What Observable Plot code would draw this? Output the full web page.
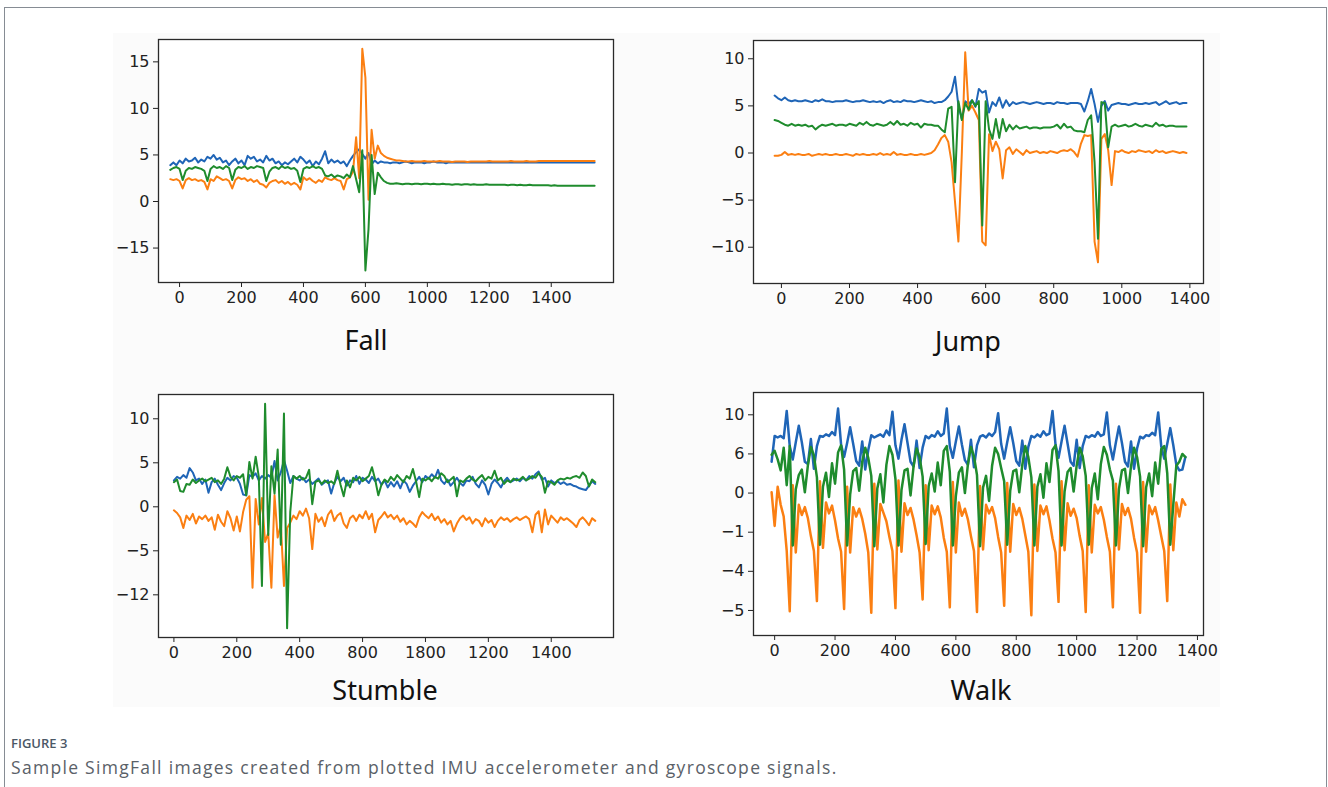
<!DOCTYPE html>
<html><head><meta charset="utf-8">
<script src="https://cdn.jsdelivr.net/npm/d3@7"></script>
<script src="https://cdn.jsdelivr.net/npm/@observablehq/plot@0.6"></script>
<style>
html,body{margin:0;padding:0;background:#fff;}
#page{position:relative;width:1328px;height:787px;overflow:hidden;background:#fff;}
#border{position:absolute;left:4px;top:7px;width:1323px;height:820px;border:1px solid #868c94;box-sizing:border-box;}
#imgbg{position:absolute;left:113px;top:33px;width:1107px;height:674px;background:#fbfbfb;}
.panel{position:absolute;}
.title{position:absolute;width:240px;text-align:center;font-family:"Noto Sans";font-size:27px;color:#111;line-height:1;}
#figlabel{position:absolute;left:11px;top:734px;font-family:"Open Sans";font-size:13px;font-weight:600;color:#4b5866;letter-spacing:0;}
#caption{position:absolute;left:11px;top:755px;font-family:"Open Sans";font-size:17.5px;color:#5a6168;letter-spacing:1.3px;white-space:nowrap;}
</style></head>
<body><div id="page">
<div id="border"></div>
<div id="imgbg"></div>
<div id="p-fall" class="panel" style="left:88px;top:30px"></div>
<div id="p-jump" class="panel" style="left:683px;top:30px"></div>
<div id="p-stumble" class="panel" style="left:88px;top:385px"></div>
<div id="p-walk" class="panel" style="left:683px;top:385px"></div>
<div class="title" style="left:246px;top:326px">Fall</div>
<div class="title" style="left:848px;top:327px">Jump</div>
<div class="title" style="left:265px;top:676px">Stumble</div>
<div class="title" style="left:861px;top:676px">Walk</div>
<div id="figlabel">FIGURE 3</div>
<div id="caption">Sample SimgFall images created from plotted IMU accelerometer and gyroscope signals.</div>
</div>
<script>
// ---- Series colors ----
const seriesNames = ["blue", "orange", "green"];
const seriesColors = ["#1f65b7", "#fb7f12", "#1f8c2d"];

// ---- FALL (sample position = fallStart + fallStep * index) ----
const fallStart = -30, fallStep = 10;
const fallBlue = [3.9,4.2,3.9,4.4,4.1,4.6,4.3,4.4,4.7,4.2, 4.5,4.3,4.8,4.6,5.0,4.5,4.7,4.2,4.4,3.9,
  4.3,4.6,4.1,4.4,3.9,4.9,4.6,4.8,4.3,4.5, 4.2,4.9,4.4,4.6,4.1,4.3,3.9,4.2,4.0,4.3,
  4.6,4.2,4.8,4.5,4.1,4.4,3.8,4.3,4.0,4.6, 5.4,4.1,4.5,4.2,4.4,4.1,4.3,3.8,4.4,4.9,
  5.3,5.6,5.1,4.6,5.2,4.0,4.4,4.1,4.3,4.2, 4.2,4.1,4.2,4.2,4.1,4.2,4.3,4.2,4.1,4.2,
  4.2,4.2,4.1,4.2,4.2,4.3,4.2,4.2,4.2,4.1, 4.2,4.2,4.2,4.2,4.2,4.2,4.2,4.2,4.2,4.2,
  4.2,4.2,4.2,4.2,4.2,4.2,4.2,4.2,4.2,4.2, 4.2,4.2,4.2,4.2,4.2,4.2,4.2,4.2,4.2,4.2,
  4.2,4.2,4.2,4.2,4.2,4.2,4.2,4.2,4.2,4.2, 4.2,4.2,4.2,4.2,4.2,4.2,4.2,4.2];
const fallOrange = [2.4,2.3,2.4,2.2,1.4,2.3,2.5,2.3,2.4,2.2, 2.3,2.1,1.3,2.4,2.2,2.7,2.5,2.3,2.4,2.2,
  1.4,2.3,2.6,2.4,2.5,2.2,2.4,2.1,2.3,1.9, 1.8,1.5,2.0,2.2,2.3,2.0,2.2,1.9,2.1,1.8,
  2.0,1.8,1.3,2.6,2.3,2.5,2.2,2.0,2.3,2.1, 2.6,2.4,2.3,2.5,2.3,2.2,1.3,2.4,2.6,3.2,
  6.9,2.5,16.4,13.3,0.2,7.7,4.6,6.0,5.2,4.9, 4.7,4.6,4.5,4.4,4.4,4.35,4.3,4.3,4.35,4.3,
  4.3,4.3,4.35,4.3,4.3,4.3,4.3,4.35,4.3,4.3, 4.3,4.25,4.3,4.3,4.3,4.3,4.25,4.3,4.3,4.3,
  4.3,4.3,4.3,4.35,4.3,4.3,4.3,4.3,4.3,4.3, 4.35,4.3,4.3,4.3,4.3,4.35,4.3,4.3,4.3,4.35,
  4.35,4.35,4.35,4.35,4.35,4.35,4.35,4.35,4.35,4.35, 4.35,4.35,4.35,4.35,4.35,4.35,4.35,4.35];
const fallGreen = [3.4,3.6,3.7,3.5,2.3,3.3,3.6,3.5,3.7,3.6, 3.5,3.3,2.2,3.5,3.8,3.6,3.7,3.5,3.8,3.6,
  2.3,3.4,3.7,3.6,3.8,3.5,3.7,3.6,3.8,3.7, 3.6,2.2,3.2,3.6,3.7,3.5,3.8,3.6,3.7,3.5,
  3.6,3.3,2.1,3.5,3.7,3.6,3.8,3.6,3.7,3.5, 2.8,2.7,2.9,2.6,2.8,2.7,2.5,2.9,2.6,3.8,
  2.4,1.0,5.5,-7.4,-3.0,5.0,0.8,3.1,2.6,2.2, 2.0,1.9,1.9,1.95,1.9,1.85,1.9,1.9,1.85,1.9,
  1.9,1.85,1.9,1.9,1.85,1.9,1.85,1.85,1.9,1.85, 1.85,1.8,1.85,1.85,1.8,1.85,1.85,1.8,1.85,1.8,
  1.8,1.8,1.85,1.8,1.8,1.8,1.8,1.8,1.8,1.75, 1.8,1.8,1.75,1.8,1.75,1.75,1.8,1.75,1.75,1.75,
  1.75,1.75,1.75,1.7,1.75,1.7,1.7,1.7,1.7,1.7, 1.7,1.7,1.7,1.7,1.7,1.7,1.7,1.7];
const fallXTicks = [0,200,400,600,800,1000,1200];
const fallXLabels = ["0","200","400","600","1000","1200","1400"];
const fallYTicks = [15,10,5,0,-5];
const fallYLabels = ["15","10","5","0","\u221215"];

// ---- JUMP ----
const jumpStart = -20, jumpStep = 10;
const jumpBlue = [6.1,5.8,5.6,5.9,5.6,5.5,5.6,5.5,5.5,5.6, 5.5,5.4,5.6,5.5,5.7,5.5,5.5,5.4,5.5,5.5,
  5.5,5.6,5.5,5.4,5.5,5.5,5.6,5.5,5.4,5.5, 5.4,5.5,5.3,5.5,5.6,5.4,5.5,5.4,5.6,5.5,
  5.5,5.4,5.5,5.6,5.5,5.4,5.5,5.3,5.4,5.4, 5.6,6.0,6.5,8.1,5.0,3.6,5.5,5.2,5.6,4.9,
  6.8,6.4,6.6,4.3,5.4,5.0,5.9,4.8,5.6,5.0, 5.4,5.2,5.3,5.4,5.3,5.2,5.3,5.4,5.3,5.2,
  5.3,5.3,5.2,5.4,5.3,5.3,5.2,5.3,5.3,5.3, 5.2,4.4,5.5,6.8,5.2,3.3,5.0,5.5,4.5,5.1,
  5.2,5.3,5.2,5.2,5.1,5.2,5.3,5.2,5.2,5.3, 5.2,5.3,5.4,5.1,5.3,5.5,5.2,5.3,5.4,5.2,5.3,5.3];
const jumpOrange = [-0.3,-0.3,-0.2,0.1,-0.2,-0.1,-0.2,-0.1,-0.2,-0.2, -0.1,-0.3,-0.2,-0.1,-0.2,-0.1,-0.2,-0.2,-0.1,-0.2,
  -0.2,-0.1,-0.2,-0.3,-0.1,-0.2,-0.1,-0.2,-0.2,-0.1, -0.2,0.0,-0.2,-0.1,-0.2,0.1,-0.2,-0.1,-0.2,-0.2,
  -0.1,-0.2,-0.2,-0.1,-0.2,-0.1,0.0,0.3,0.9,1.6, 1.9,1.2,-1.0,-5.2,-9.4,0.0,10.7,4.5,5.0,4.3,
  3.5,-9.4,-9.8,2.0,0.2,1.2,0.4,-2.7,0.3,0.6, -0.1,0.4,0.1,-0.2,0.3,0.0,0.1,0.2,0.0,0.1,
  0.0,0.2,0.1,0.0,0.2,0.3,0.2,0.4,0.1,-0.4, 1.0,1.9,1.8,1.9,-9.4,-11.6,1.5,2.0,0.3,-3.4,
  0.2,0.1,0.3,0.1,0.0,0.2,0.1,0.3,0.2,0.1, 0.2,0.0,0.3,0.1,0.2,0.0,0.1,0.2,0.1,0.0,0.1,0.0];
const jumpGreen = [3.5,3.4,3.2,3.0,2.9,3.1,2.9,3.0,2.9,3.0, 2.8,2.9,2.5,2.8,3.0,2.9,3.0,3.1,2.9,3.0,
  3.0,2.9,3.1,3.0,2.9,3.2,3.0,3.3,3.0,2.9, 3.1,3.0,2.9,3.0,3.3,3.0,3.4,3.0,3.1,2.9,
  3.2,3.0,3.1,2.7,3.1,3.0,3.0,2.9,2.9,2.5, 2.2,4.7,4.9,-3.1,5.5,3.5,5.3,4.6,5.6,5.0,
  5.5,-7.7,5.5,2.5,1.5,3.6,1.6,3.6,2.3,3.0, 2.5,2.9,2.6,2.7,2.8,2.6,2.7,2.7,2.6,2.7,
  2.7,2.7,2.8,3.0,2.6,3.1,2.7,2.8,2.4,2.3, 2.3,2.2,3.5,4.0,-1.0,-9.1,5.4,5.3,0.6,2.8,
  3.0,2.8,2.9,3.0,2.8,2.9,3.1,2.9,2.8,3.0, 2.9,2.8,3.2,2.9,3.0,2.8,2.9,2.9,2.8,2.8,2.8,2.8];
const jumpXTicks = [0,200,400,600,800,1000,1200];
const jumpXLabels = ["0","200","400","600","800","1000","1400"];
const jumpYTicks = [10,5,0,-5,-10];
const jumpYLabels = ["10","5","0","\u22125","\u221210"];

// ---- STUMBLE ----
const stumbleStart = 0, stumbleStep = 10;
const stumbleBlue = [3.0,3.4,3.2,3.6,3.3,4.4,3.9,3.0,3.2,2.6, 3.1,1.6,2.8,3.2,2.5,1.9,2.7,3.3,3.0,3.5,
  3.3,2.6,1.4,1.3,3.6,3.4,3.8,3.0,3.5,3.2, 3.6,3.3,5.2,3.0,3.9,5.3,4.1,2.7,3.5,3.2,
  3.0,3.3,2.8,3.1,2.6,2.9,3.2,2.5,2.8,3.0, 1.5,2.7,3.4,2.9,3.3,2.4,3.0,2.8,3.5,2.6,
  3.3,3.1,2.7,3.4,2.9,3.2,2.5,3.0,2.2,2.8, 2.3,2.9,2.1,3.0,2.6,1.7,2.4,2.9,3.4,2.8,
  3.5,3.2,3.7,3.3,4.2,3.0,2.6,3.1,2.4,2.8, 3.3,2.7,2.4,3.0,2.9,3.4,2.6,2.2,3.0,2.5,
  1.4,2.6,3.1,2.7,2.2,2.9,3.3,2.8,3.0,3.2, 2.9,3.3,3.0,3.5,3.2,3.7,4.0,3.1,3.3,2.3,
  3.0,2.7,2.9,2.6,2.8,2.5,2.6,2.4,2.3,2.1, 2.0,1.9,2.4,2.9,2.6];
const stumbleOrange = [-0.4,-0.7,-1.2,-2.4,-1.0,-1.5,-0.8,-1.9,-1.1,-1.4, -1.0,-1.6,-1.2,-2.6,-0.9,-1.7,-2.2,-0.5,-1.3,-2.7,
  -1.1,-2.8,-0.6,0.8,1.2,-9.2,0.9,-2.0,1.0,-4.0, -3.0,-9.2,1.3,-3.5,-2.0,-9.0,-2.4,-1.8,-1.0,-1.4,
  -0.5,-1.0,-0.2,-1.3,-4.8,-0.8,-1.7,-1.2,-2.2,-0.9, -0.4,-1.6,-1.0,-0.7,-1.9,-2.4,-1.3,-1.0,-1.6,-0.9,
  -1.3,-0.5,-1.4,-0.8,-2.9,-1.5,-1.1,-0.6,-1.2,-0.9, -1.4,-1.0,-1.7,-1.3,-2.0,-1.6,-1.9,-2.3,-1.2,-0.6,
  -1.0,-1.3,-0.8,-1.5,-1.1,-1.8,-1.4,-2.0,-1.6,-2.8, -1.9,-1.3,-1.0,-1.5,-1.2,-1.9,-1.4,-1.6,-2.2,-1.3,
  -1.8,-1.5,-2.3,-1.6,-1.2,-1.5,-1.3,-1.7,-1.4,-1.2, -1.5,-1.3,-1.1,-1.4,-2.9,-0.9,-0.5,-2.9,-0.3,-2.0,
  -1.0,-1.4,-1.8,-1.2,-1.5,-1.3,-1.6,-1.9,-2.3,-1.5, -1.2,-1.6,-2.1,-1.3,-1.6];
const stumbleGreen = [2.8,3.1,1.8,1.7,2.6,2.5,3.1,2.7,3.0,3.2, 2.9,3.1,3.3,2.8,3.0,2.6,3.2,4.5,3.4,3.0,
  3.5,3.3,3.7,1.3,5.1,3.2,5.7,3.4,-9.0,11.7, -3.2,4.6,1.5,6.5,-4.3,10.6,-13.8,-0.6,3.5,3.2,
  3.5,3.1,3.3,4.2,0.3,2.8,3.0,2.6,3.0,2.7, 2.9,2.6,4.1,2.5,1.2,3.0,2.2,3.3,3.0,3.4,
  2.9,3.2,3.5,4.5,3.1,1.3,2.5,3.1,2.8,3.4, 3.0,3.6,3.2,2.8,3.5,3.2,4.3,2.9,1.1,3.2,
  3.0,3.3,2.9,3.4,3.2,3.8,3.5,2.8,3.1,3.4, 1.2,3.0,2.8,3.2,3.5,3.1,2.9,3.3,3.6,3.0,
  3.4,3.2,4.1,3.0,3.3,2.6,3.0,2.8,3.2,3.0, 3.1,3.4,3.0,3.2,3.5,3.3,3.8,3.4,1.6,2.9,
  2.8,2.5,3.0,3.2,3.1,3.3,3.2,3.4,3.5,3.3, 3.9,3.5,2.3,3.1,2.8];
const stumbleXTicks = [0,200,400,600,800,1000,1200];
const stumbleXLabels = ["0","200","400","800","1800","1200","1400"];
const stumbleYTicks = [10,5,0,-5,-10];
const stumbleYLabels = ["10","5","0","\u22125","\u221212"];

// ---- WALK ----
const walkStart = -10, walkStep = 10;
const walkBlue = [4.0,7.3,7.1,7.3,7.0,10.5,6.0,4.3,6.5,8.6, 6.5,4.0,3.7,6.9,3.1,6.0,7.3,7.2,7.5,7.3,
  7.8,7.4,10.8,6.2,4.6,6.4,8.4,6.3,4.1,3.5, 6.6,3.0,5.5,7.4,7.1,7.3,7.5,7.2,8.0,7.4,
  10.4,6.1,4.4,6.8,8.8,6.4,4.0,3.4,6.7,3.2, 5.8,7.3,7.0,7.4,7.2,7.9,7.3,7.6,10.8,6.0,
  4.5,6.6,8.5,6.2,4.2,3.6,6.8,3.3,6.1,7.2, 7.4,7.1,7.6,7.3,7.8,10.2,6.3,4.4,6.5,8.4,
  6.4,4.1,3.5,6.7,3.1,5.9,7.3,7.1,7.5,7.2, 7.9,7.4,7.6,10.5,6.2,4.5,6.6,8.6,6.3,4.0,
  3.5,6.8,3.2,6.0,7.3,7.1,7.4,7.2,7.8,7.3, 7.5,10.3,6.1,4.3,6.5,8.5,6.4,4.0,3.4,6.6,
  3.1,5.7,7.2,7.0,7.4,7.3,7.7,7.4,10.3,6.0, 4.4,6.3,8.3,6.1,3.6,2.9,3.0,4.6];
const walkOrange = [0.1,-4.2,0.8,-1.5,-3.0,-7.4,-15.1,1.0,-7.6,-1.5, -2.8,-1.8,-3.2,-5.5,-7.4,-13.8,1.5,-7.0,-1.2,-2.6,
  -1.6,-3.5,-5.8,-7.5,-14.8,0.8,-7.6,-1.8,-3.0,-2.0, -3.3,-5.2,-7.6,-15.3,1.2,-7.2,-1.4,-2.5,-3.6,-5.6,
  -7.4,-14.7,1.6,-7.5,-1.3,-2.8,-1.9,-3.4,-5.4,-7.6, -13.6,1.0,-7.3,-1.6,-2.7,-1.7,-3.1,-5.7,-7.5,-14.6,
  1.4,-7.6,-1.2,-2.9,-2.0,-3.4,-5.5,-7.4,-15.2,0.9, -7.2,-1.5,-2.6,-1.8,-3.2,-5.6,-7.6,-14.4,1.3,-7.5,
  -1.4,-2.8,-1.9,-3.3,-5.4,-7.5,-15.6,1.1,-7.4,-1.6, -2.7,-1.7,-3.5,-5.8,-7.6,-13.9,1.5,-7.3,-1.3,-2.9,
  -2.0,-3.2,-5.5,-7.4,-15.2,1.0,-7.6,-1.5,-2.6,-1.8, -3.4,-5.6,-7.5,-14.6,1.2,-7.2,-1.4,-2.8,-1.9,-3.3,
  -5.7,-7.6,-15.3,1.4,-7.5,-1.6,-2.7,-1.8,-3.5,-5.5, -7.4,-13.8,1.1,-7.3,-1.2,-3.0,-0.8,-1.5];
const walkGreen = [4.9,5.4,4.3,2.9,5.8,1.0,6.0,-6.7,0.5,2.3, 3.0,0.1,3.5,5.9,4.8,2.0,-6.6,0.8,2.6,-0.5,
  3.8,1.2,5.2,6.1,3.0,-6.7,-0.2,2.8,3.2,0.3, 4.0,5.8,4.5,2.2,-6.8,0.6,2.4,-1.2,3.6,6.0,
  4.9,1.8,-6.7,0.4,2.9,3.1,-0.3,3.4,5.7,4.6, 2.1,-6.5,0.9,2.5,0.2,3.9,1.0,5.4,6.0,2.7,
  -6.7,-0.4,2.6,3.3,0.0,3.7,5.9,4.7,2.3,-6.8, 0.7,2.2,-1.0,3.5,5.8,5.0,3.2,1.5,-6.6,0.3,
  2.8,3.0,0.1,3.6,6.0,4.6,2.0,-6.7,0.8,2.4, -0.6,3.8,1.4,5.5,6.1,2.8,-6.7,0.2,2.7,3.2,
  0.2,3.5,5.8,4.7,2.2,-6.6,0.6,2.5,-0.8,3.7, 5.9,4.9,3.0,1.6,-6.7,0.5,2.9,3.1,0.0,3.4,
  5.8,4.6,2.1,-6.8,0.7,2.5,-0.4,3.9,1.2,5.6, 6.0,2.5,-6.6,-1.5,3.5,4.0,5.0,4.6];
const walkXTicks = [0,200,400,600,800,1000,1200,1400];
const walkXLabels = ["0","200","400","600","800","1000","1200","1400"];
const walkYTicks = [10,5,0,-5,-10,-15];
const walkYLabels = ["10","6","0","\u22121","\u22124","\u22125"];

function drawPanel(id, cfg) {
  const xMap = new Map(cfg.xTicks.map((t, i) => [t, cfg.xLabels[i]]));
  const yMap = new Map(cfg.yTicks.map((t, i) => [t, cfg.yLabels[i]]));
  const lines = cfg.series.map((vals, k) => {
    const rows = vals.map((v, i) => ({x: cfg.start + cfg.step * i, y: v}));
    return Plot.line(rows, {x: "x", y: "y", stroke: seriesColors[k], strokeWidth: cfg.sw,
      strokeLinejoin: "round", strokeLinecap: "round"});
  });
  const chart = Plot.plot({
    width: 540, height: cfg.mt + 243 + 40,
    marginLeft: 70, marginRight: cfg.mr, marginTop: cfg.mt, marginBottom: 40,
    style: {fontFamily: "DejaVu Sans", fontSize: "16px", color: "#222", background: "transparent", overflow: "visible"},
    x: {domain: cfg.xDomain, ticks: cfg.xTicks, tickFormat: d => xMap.get(d), tickSize: 5, tickPadding: 4, label: null},
    y: {domain: cfg.yDomain, ticks: cfg.yTicks, tickFormat: d => yMap.get(d), tickSize: 5, tickPadding: 4, label: null},
    marks: [
      Plot.frame({fill: "white", stroke: null}),
      ...lines,
      Plot.frame({stroke: "#2a2a2a", strokeWidth: 1.3})
    ]
  });
  chart.querySelectorAll("text").forEach(t => t.style.fontSize = "16px");
  document.getElementById(id).appendChild(chart);
}

drawPanel("p-fall", {start: fallStart, step: fallStep, series: [fallBlue, fallOrange, fallGreen],
  xTicks: fallXTicks, xLabels: fallXLabels, yTicks: fallYTicks, yLabels: fallYLabels,
  xDomain: [-68, 1401], yDomain: [-8.7, 17.4], mt: 9, mr: 15, sw: 2});
drawPanel("p-jump", {start: jumpStart, step: jumpStep, series: [jumpBlue, jumpOrange, jumpGreen],
  xTicks: jumpXTicks, xLabels: jumpXLabels, yTicks: jumpYTicks, yLabels: jumpYLabels,
  xDomain: [-82, 1240], yDomain: [-13.85, 11.94], mt: 10, mr: 20, sw: 2});
drawPanel("p-stumble", {start: stumbleStart, step: stumbleStep, series: [stumbleBlue, stumbleOrange, stumbleGreen],
  xTicks: stumbleXTicks, xLabels: stumbleXLabels, yTicks: stumbleYTicks, yLabels: stumbleYLabels,
  xDomain: [-49, 1398], yDomain: [-14.85, 12.76], mt: 9, mr: 15, sw: 2});
drawPanel("p-walk", {start: walkStart, step: walkStep, series: [walkBlue, walkOrange, walkGreen],
  xTicks: walkXTicks, xLabels: walkXLabels, yTicks: walkYTicks, yLabels: walkYLabels,
  xDomain: [-70, 1420], yDomain: [-18.2, 12.85], mt: 7, mr: 20, sw: 2.5});
</script>
</body></html>
